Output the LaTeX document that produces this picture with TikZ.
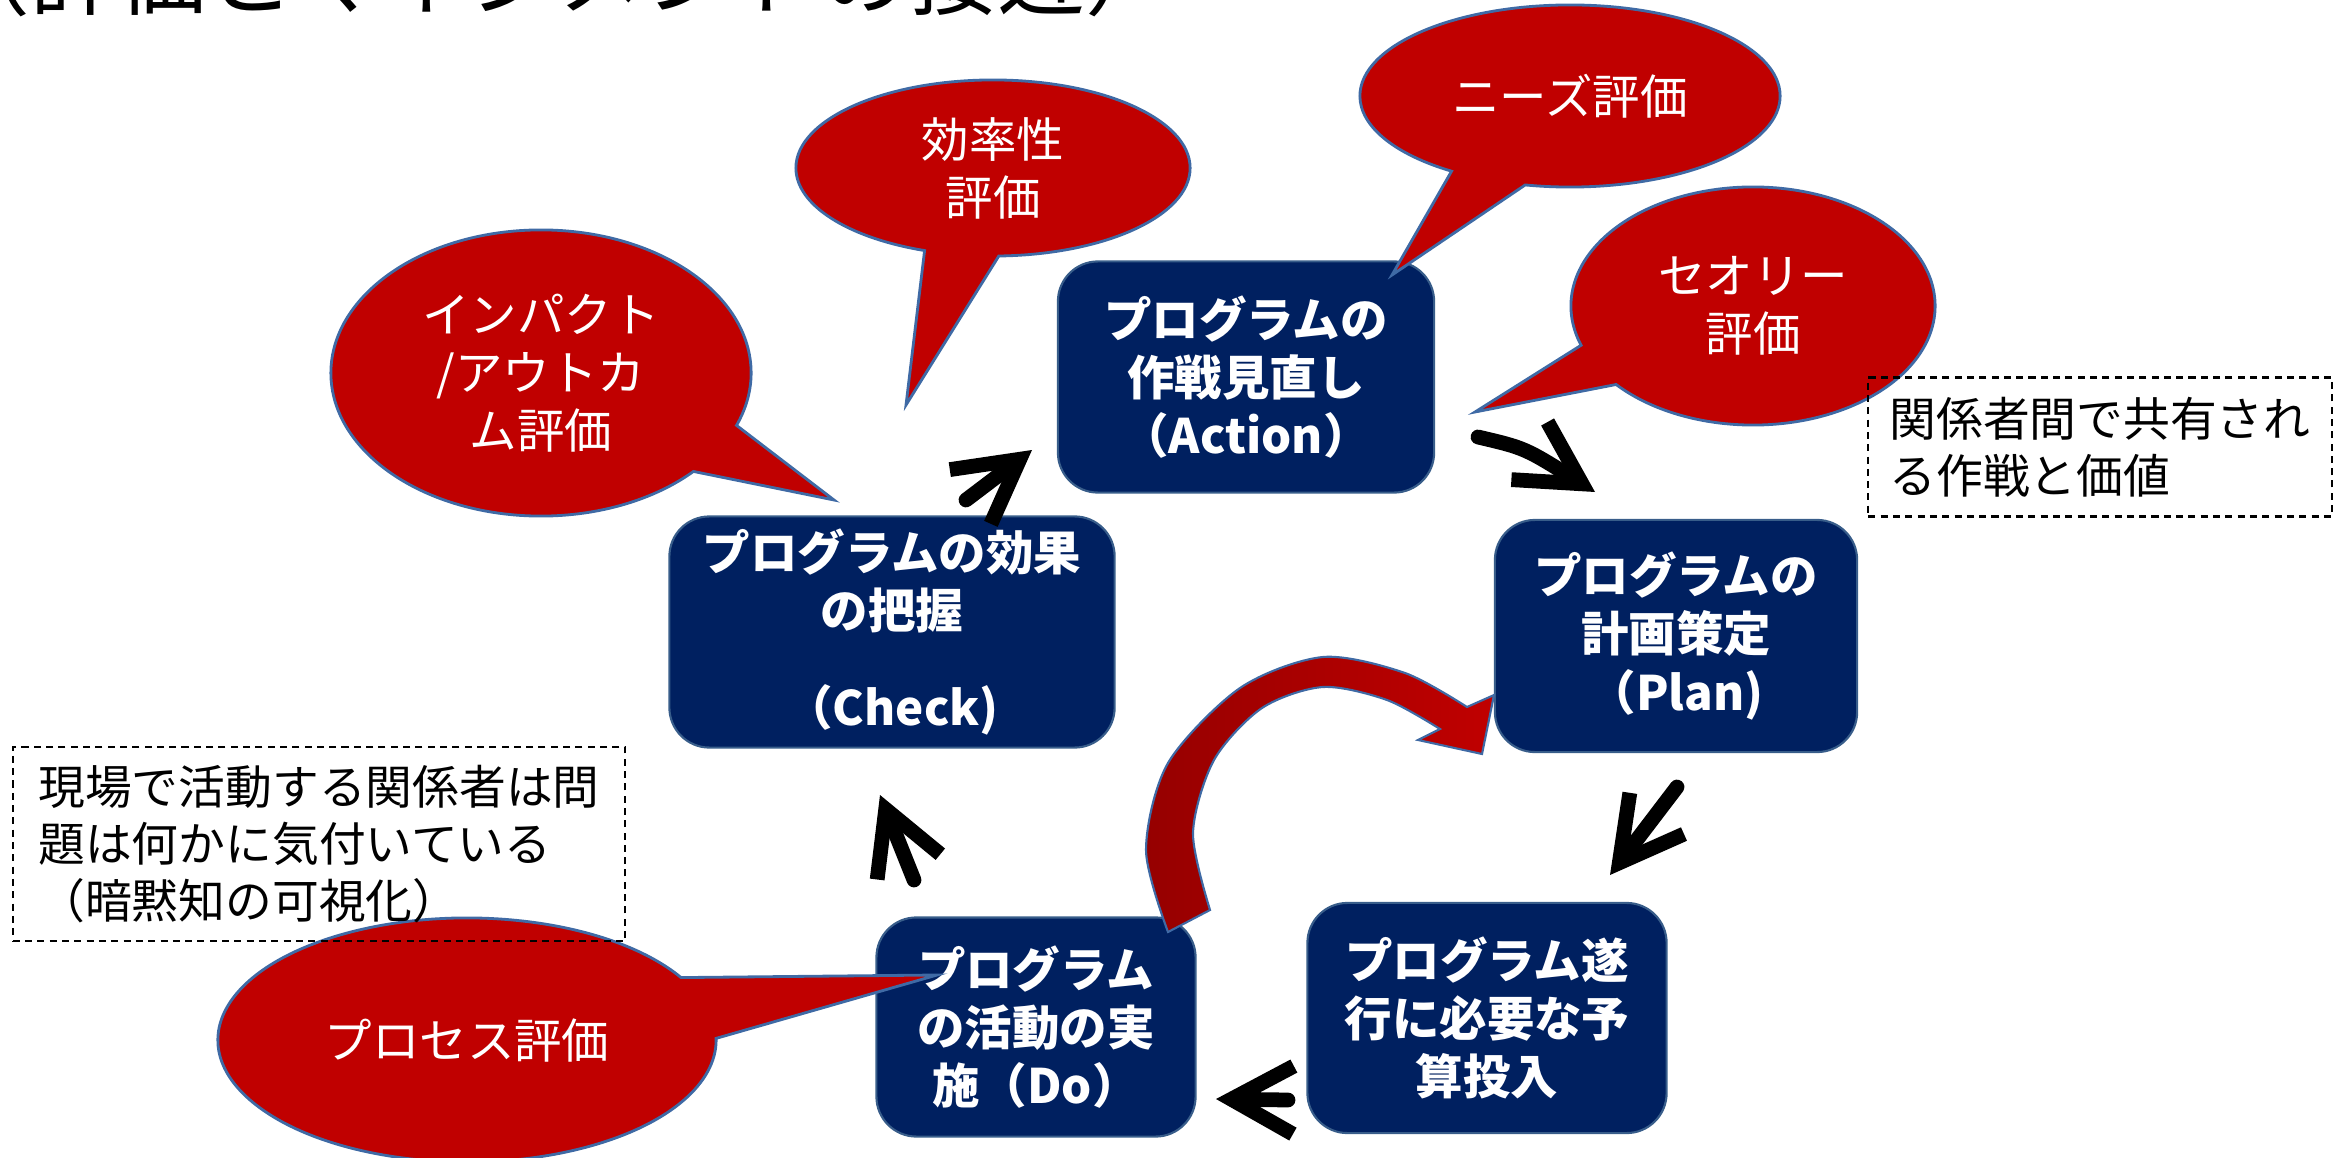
\documentclass[tikz,border=0pt]{standalone}
\usepackage{fontspec}
\setmainfont{Noto Sans CJK JP}
\usepackage{tikz}
\usetikzlibrary{arrows.meta}
\usetikzlibrary{shapes.callouts}

\definecolor{navy}{HTML}{002060}
\definecolor{boxline}{HTML}{385D8A}
\definecolor{bubred}{HTML}{C00000}
\definecolor{bubline}{HTML}{3F6AA5}
\definecolor{darkred}{HTML}{960000}

\tikzset{
	pdcabox/.style={rectangle, rounded corners=0.4cm, fill=navy, draw=boxline, line width=0.6pt,
		text=white, font=\bfseries\fontsize{13.5}{16.5}\selectfont, align=center, inner sep=0pt},
	bubble/.style={ellipse callout, callout pointer arc=22, fill=bubred, draw=bubline, line width=0.8pt,
		text=white, font=\fontsize{13.5}{16.5}\selectfont, align=center, inner sep=0pt},
	memo/.style={rectangle, draw=black, dash pattern=on 2pt off 1.5pt, line width=0.6pt,
		font=\fontsize{13.3}{16.2}\selectfont, align=left, inner sep=0pt},
	cycarr/.style={line width=4.2pt, line cap=round, -{Straight Barb[length=6.2mm, width=6.8mm]}}
}

\begin{document}
\begin{tikzpicture}[x=0.01cm, y=-0.01cm]
	\useasboundingbox (0,0) rectangle (2343,1158);

	% title, cut by the top edge
	\node[anchor=base west, font=\fontsize{25}{30}\selectfont] (title) at (-70,9) {（評価とマネジメントの接近）};

	% the five steps
	\node[pdcabox, minimum width=3.76cm, minimum height=2.31cm] (act) at (1246,377) {プログラムの\\作戦見直し\\（Action）};
	\node[pdcabox, minimum width=3.62cm, minimum height=2.32cm] (plan) at (1676,636) {プログラムの\\計画策定\\（Plan)};
	\node[pdcabox, minimum width=4.45cm, minimum height=2.31cm] (chk) at (892,632) {プログラムの効果\\の把握\\[0.38cm]（Check)};
	\node[pdcabox, minimum width=3.59cm, minimum height=2.30cm] (bud) at (1487,1018) {プログラム遂\\行に必要な予\\算投入};
	\node[pdcabox, minimum width=3.19cm, minimum height=2.19cm] (do) at (1036,1027) {プログラム\\の活動の実\\施（Do）};

	% cycle arrows
	\coordinate (ca-s) at (966,500);
	\coordinate (ca-e) at (1032,450);
	\coordinate (ap-s) at (1478,437);
	\coordinate (ap-e) at (1595,492);
	\coordinate (pb-s) at (1677,787);
	\coordinate (pb-e) at (1610,875);
	\coordinate (bd-s) at (1288,1100);
	\coordinate (bd-e) at (1216,1099);
	\coordinate (dc-s) at (914,880);
	\coordinate (dc-e) at (880,795);

	\draw[cycarr] (ca-s) -- (ca-e);
	\draw[cycarr] (ap-s) .. controls (1525,448) .. (ap-e);
	\draw[cycarr] (pb-s) -- (pb-e);
	\draw[cycarr] (bd-s) -- (bd-e);
	\draw[cycarr] (dc-s) -- (dc-e);

	% red curved arrow from Do back to Plan
	\draw[bubline, line width=0.6pt, left color=darkred, right color=bubred]
		plot[smooth] coordinates {(1168,932) (1146,850) (1168,763) (1240,688) (1323,657) (1405,673) (1467,707)}
		-- (1494,695) -- (1482,754) -- (1418,740)
		-- plot[smooth] coordinates {(1440,729) (1387,700) (1323,687) (1262,708) (1214,760) (1193,833) (1210,910)}
		-- cycle;

	% evaluation callouts
	\node[bubble, minimum width=3.94cm, minimum height=1.76cm, callout absolute pointer={(906,405)}] (eff) at (993,168) {効率性\\評価};
	\node[bubble, minimum width=4.2cm, minimum height=1.82cm, callout absolute pointer={(1392,275)}] (needs) at (1570,96) {ニーズ評価};
	\node[bubble, minimum width=3.64cm, minimum height=2.38cm, callout absolute pointer={(1475,412)}] (theory) at (1753,306) {セオリー\\評価};
	\node[bubble, minimum width=4.2cm, minimum height=2.86cm, callout absolute pointer={(834,500)}] (impact) at (541,373) {インパクト\\/アウトカ\\ム評価};
	\node[bubble, callout pointer arc=30, minimum width=4.98cm, minimum height=2.44cm, callout absolute pointer={(937,975)}] (proc) at (467,1040) {プロセス評価};

	% notes
	\node[memo, minimum width=4.63cm, minimum height=1.39cm] (shared) at (2100,447) {関係者間で共有され\\る作戦と価値};
	\node[memo, minimum width=6.12cm, minimum height=1.94cm] (field) at (319,844) {現場で活動する関係者は問\\題は何かに気付いている\\（暗黙知の可視化）};
\end{tikzpicture}
\end{document}
